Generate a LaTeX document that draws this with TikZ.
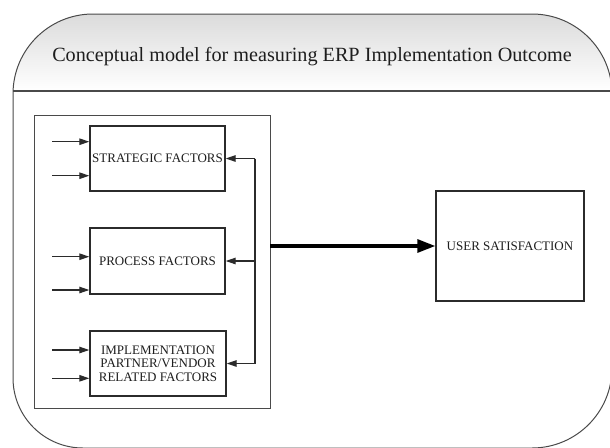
\documentclass[tikz,border=0pt]{standalone}
\usepackage{fontspec}
\setmainfont{Liberation Serif}
\usetikzlibrary{arrows.meta}
\definecolor{frame}{HTML}{4A4A4A}
\definecolor{boxline}{HTML}{2B2B2B}
\definecolor{txt}{HTML}{1E1E1E}
\begin{document}
\begin{tikzpicture}[x=1pt,y=1pt,
  factor/.style={draw=boxline, line width=1.4pt, inner sep=0pt, text=txt,
    align=center, font=\fontsize{13}{13.6}\selectfont},
  inarrow/.style={draw=boxline, line width=1.2pt, -{Triangle[length=10pt,width=6.5pt]}},
  fbline/.style={draw=boxline, line width=1.2pt},
  bigarrow/.style={draw=black, line width=3.2pt, -{Triangle[length=18pt,width=13pt]}}]
\useasboundingbox (0,0) rectangle (610,-447);
\fill[white] (0,0) rectangle (610,-447);
% header gradient
\begin{scope}
\clip (13,-94) arc[start angle=180,end angle=90,radius=80] -- (532,-14)
  arc[start angle=90,end angle=0,radius=80] -- (612,-368)
  arc[start angle=0,end angle=-90,radius=80] -- (83,-448)
  arc[start angle=270,end angle=180,radius=70] -- cycle;
\shade[top color=black!14, bottom color=white] (0,-14) rectangle (612,-91);
\end{scope}
% outer frame
\draw[frame, line width=1pt] (13,-94) arc[start angle=180,end angle=90,radius=80] -- (532,-14)
  arc[start angle=90,end angle=0,radius=80] -- (612,-368)
  arc[start angle=0,end angle=-90,radius=80] -- (83,-448)
  arc[start angle=270,end angle=180,radius=70] -- cycle;
\draw[frame, line width=1.1pt] (13,-91) -- (612,-91);
\node[text=txt, font=\fontsize{20.2}{24}\selectfont] (title) at (312,-57)
  {Conceptual model for measuring ERP Implementation Outcome};
% inner frame
\node[draw=frame, line width=0.9pt, minimum width=236pt, minimum height=293pt, inner sep=0pt]
  (inner) at (152,-261.5) {};
% factor boxes
\node[factor, minimum width=135pt, minimum height=65pt] (strat) at (157.5,-158.5) {STRATEGIC FACTORS};
\node[factor, minimum width=135pt, minimum height=66pt] (proc) at (157.5,-261) {PROCESS FACTORS};
\node[factor, minimum width=136pt, minimum height=65pt] (impl) at (158,-363.5)
  {IMPLEMENTATION\\PARTNER/VENDOR\\RELATED FACTORS};
\node[factor, minimum width=148pt, minimum height=110pt] (user) at (510,-246) {USER SATISFACTION};
% input arrows
\coordinate (s1) at (52,-141.7);
\coordinate (s2) at (52,-175.7);
\coordinate (p1) at (52,-256.7);
\coordinate (p2) at (52,-290);
\coordinate (i1) at (52,-350);
\coordinate (i2) at (52,-378.3);
\foreach \c/\b in {s1/strat,s2/strat,p1/proc,p2/proc,i1/impl,i2/impl}
  \draw[inarrow] (\c) -- (\c -| \b.west);
% feedback arrows
\coordinate (fb) at (255,0);
\draw[fbline] (strat.east -| fb) -- (impl.east -| fb);
\draw[inarrow] (strat.east -| fb) -- (strat.east);
\draw[inarrow] (proc.east -| fb) -- (proc.east);
\draw[inarrow] (impl.east -| fb) -- (impl.east);
% main arrow
\draw[bigarrow] (inner.east |- user.west) -- (user.west);
\end{tikzpicture}
\end{document}
